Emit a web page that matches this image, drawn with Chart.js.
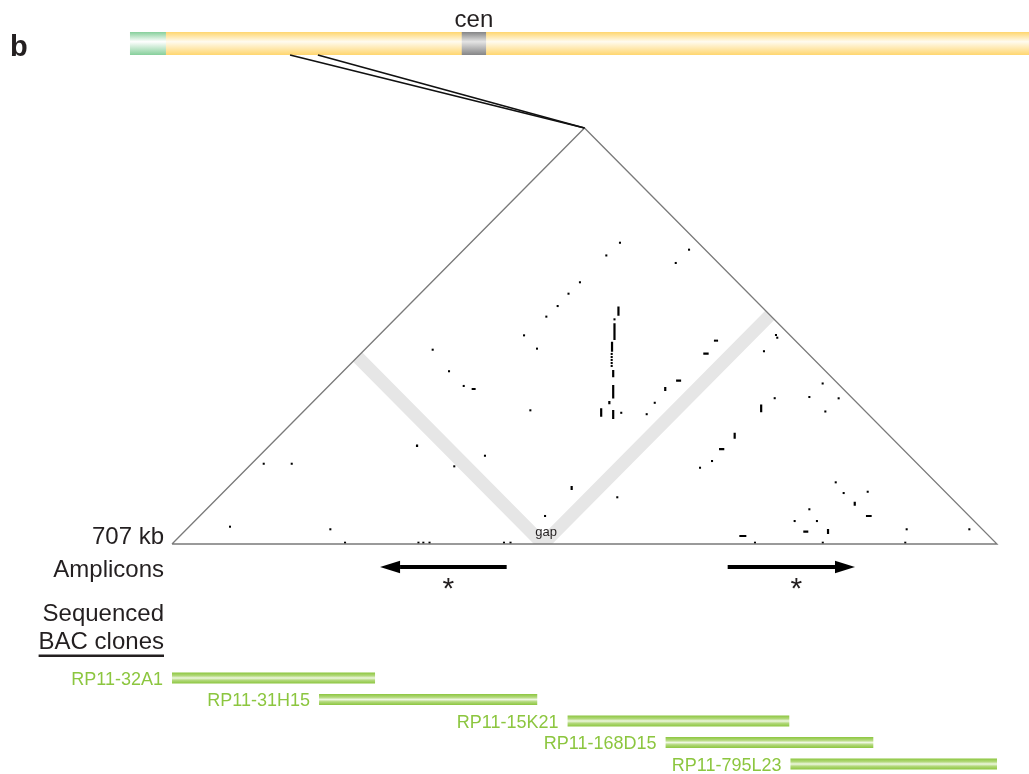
<!DOCTYPE html>
<html>
<head>
<meta charset="utf-8">
<title>707 kb self dot plot</title>
<script src="https://cdn.jsdelivr.net/npm/chart.js@4/dist/chart.umd.min.js"></script>
<style>
  html, body { margin: 0; padding: 0; background: #fff; }
  #wrap { width: 1029px; height: 774px; position: relative; }
</style>
</head>
<body>
<div id="wrap"><canvas id="dotPlot"></canvas></div>
<script>
// region shown in the triangle (kb) and the sequence gap
const regionKb = 707;
const gapKb = 318;

// self-alignment hits, as [midpoint kb, half offset kb]
const matchDots = [
  [78.6, 68.2], [102.6, 68.2], [49.7, 14.7], [135.7, 12.5], [223.4, 165.1],
  [237.4, 146.8], [250.0, 134.3], [241.9, 66.0], [268.2, 75.0], [301.7, 177.3],
  [312.8, 166.0], [307.1, 113.6], [320.8, 193.2], [330.5, 202.2], [339.8, 212.7],
  [349.6, 222.4], [372.2, 245.2], [383.9, 256.0], [431.7, 238.8], [443.1, 250.1],
  [379.2, 190.9], [385.0, 111.5], [406.8, 110.3], [413.7, 120.0], [381.6, 39.7],
  [319.7, 23.8], [465.3, 172.8], [467.1, 172.8], [517.6, 177.6], [518.7, 175.3],
  [507.3, 163.8], [557.6, 136.4], [516.5, 123.9], [546.2, 124.9], [571.3, 123.8],
  [559.9, 112.6], [462.8, 70.5], [452.5, 64.8], [568.8, 52.4], [575.6, 43.3],
  [596.2, 44.4], [546.2, 29.5], [533.6, 19.5], [552.7, 19.5], [629.6, 12.5],
  [683.3, 12.5],
  [376.8, 161.5], [376.8, 158.9], [376.8, 156.4], [376.8, 153.8], [376.8, 151.3],
  [148.3, 1.1], [211.2, 1.1], [215.4, 1.1], [220.7, 1.1], [284.5, 1.1],
  [290.1, 1.1], [499.6, 1.1], [557.7, 1.1], [628.4, 1.1],
];

// runs along the vertical: [midpoint kb, half offset from, half offset to]
const matchRunsV = [
  [382.6, 193.9, 201.8], [379.2, 173.4, 187.5], [377.1, 163.4, 171.9],
  [378.1, 141.7, 147.9], [378.1, 123.6, 135.1], [367.8, 108.2, 115.3],
  [378.1, 106.2, 113.9], [504.9, 111.9, 118.5], [482.2, 89.5, 94.6],
  [585.1, 32.5, 35.9], [562.2, 8.5, 12.7], [422.7, 130.0, 133.4],
  [374.8, 118.7, 121.5], [342.5, 45.9, 49.3], [210.0, 82.4, 84.6],
];

// runs along the horizontal: [midpoint from, midpoint to, half offset]
const matchRunsH = [
  [455.3, 459.9, 161.7], [468.8, 473.3, 80.7], [594.7, 599.6, 23.8],
  [486.2, 492.2, 6.8], [432.0, 436.3, 138.8], [541.0, 545.3, 10.5],
  [256.8, 260.2, 131.7],
];

// amplicon arms: [tail kb, head kb]
const amplicons = [[286.8, 178.3], [476.2, 585.3]];
const ampliconMarks = ["*", "*"];

// sequenced BAC clones
const bacNames = ["RP11-32A1", "RP11-31H15", "RP11-15K21", "RP11-168D15", "RP11-795L23"];
const bacStart = [0, 126, 339, 423, 530];
const bacEnd = [174, 313, 529, 601, 707];

// chromosome ideogram (Mb)
const chromLength = 155;
const bandFrom = [0, 6.2, 57.2, 61.4];
const bandTo = [6.2, 57.2, 61.4, 155];
const bandKind = ["par", "arm", "cen", "arm"];
const zoomFromMb = [27.6, 32.4];

const FONT = "Arial, 'Liberation Sans', Helvetica, sans-serif";
const INK = "#231f20";
const BAC_GREEN = "#8cc63f";

// page layout in pixels (not data)
const LAYOUT = { ideoTop: 32, ideoH: 23, ampY: 567, starDy: 16.5, labelGap: 9, bacH: 11 };

const bandColors = {
  par: ["#86cf9b", "#ffffff"],
  arm: ["#ffd66f", "#fffbef"],
  cen: ["#858586", "#e4e4e4"],
};

function vGradient(ctx, top, h, edge, mid) {
  const g = ctx.createLinearGradient(0, top, 0, top + h);
  g.addColorStop(0, edge);
  g.addColorStop(0.42, mid);
  g.addColorStop(1, edge);
  return g;
}

function bacGradient(ctx, cy, h) {
  const g = ctx.createLinearGradient(0, cy - h / 2, 0, cy + h / 2);
  g.addColorStop(0, "#8cc63f");
  g.addColorStop(0.3, "#b3d97c");
  g.addColorStop(0.5, "#eef7e0");
  g.addColorStop(0.7, "#b3d97c");
  g.addColorStop(1, "#8cc63f");
  return g;
}

// draw text so that its ink is vertically centred on y
function inkText(ctx, text, x, y) {
  const m = ctx.measureText(text);
  const asc = m.actualBoundingBoxAscent, desc = m.actualBoundingBoxDescent;
  ctx.textBaseline = "alphabetic";
  ctx.fillText(text, x, y + (asc - desc) / 2);
}

const half = regionKb / 2;
const trianglePts = [
  { x: 0, y: 0 }, { x: half, y: half }, { x: regionKb, y: 0 }, { x: 0, y: 0 },
];
const vPts = matchRunsV.flatMap(([m, a, b]) => [{ x: m, y: a }, { x: m, y: b }, { x: m, y: null }]);
const hPts = matchRunsH.flatMap(([a, b, h]) => [{ x: a, y: h }, { x: b, y: h }, { x: b, y: null }]);

const bacDatasets = bacNames.map((name, i) => ({
  type: "line",
  label: name,
  xAxisID: "x",
  yAxisID: "yb",
  data: [{ x: bacStart[i], y: i }, { x: bacEnd[i], y: i }],
  borderWidth: LAYOUT.bacH,
  borderCapStyle: "butt",
  pointRadius: 0,
  borderColor: (c) => {
    const yb = c.chart.scales.yb;
    const cy = yb ? yb.getPixelForValue(i) : NaN;
    if (!Number.isFinite(cy)) return BAC_GREEN;
    return bacGradient(c.chart.ctx, cy, LAYOUT.bacH);
  },
}));

// grey band marking the sequence gap, clipped to the triangle
const gapBands = {
  id: "gapBands",
  beforeDatasetsDraw(chart) {
    const { ctx, scales: { x, y } } = chart;
    ctx.save();
    ctx.beginPath();
    trianglePts.forEach((p, i) => {
      const px = x.getPixelForValue(p.x), py = y.getPixelForValue(p.y);
      i ? ctx.lineTo(px, py) : ctx.moveTo(px, py);
    });
    ctx.closePath();
    ctx.clip();
    const over = 15;
    const pts = [
      [(gapKb - over) / 2, (gapKb + over) / 2],
      [gapKb, 0],
      [(gapKb + regionKb + over) / 2, (regionKb - gapKb + over) / 2],
    ];
    ctx.beginPath();
    pts.forEach(([m, h], i) => {
      const px = x.getPixelForValue(m), py = y.getPixelForValue(h);
      i ? ctx.lineTo(px, py) : ctx.moveTo(px, py);
    });
    ctx.strokeStyle = "#e6e6e6";
    ctx.lineWidth = 13;
    ctx.lineJoin = "miter";
    ctx.stroke();
    ctx.restore();
  },
};

// ideogram, labels, amplicon arrows
const decorations = {
  id: "decorations",
  afterDatasetsDraw(chart) {
    const { ctx, scales: { x, y, xc, yb } } = chart;
    ctx.save();

    // ideogram
    const top = LAYOUT.ideoTop, h = LAYOUT.ideoH;
    bandFrom.forEach((f, i) => {
      const x0 = xc.getPixelForValue(f), x1 = xc.getPixelForValue(bandTo[i]);
      const [edge, mid] = bandColors[bandKind[i]];
      ctx.fillStyle = vGradient(ctx, top, h, edge, mid);
      ctx.fillRect(x0, top, x1 - x0 + 0.5, h);
    });
    const ci = bandKind.indexOf("cen");
    ctx.fillStyle = INK;
    ctx.font = `24px ${FONT}`;
    ctx.textAlign = "center";
    inkText(ctx, "cen", (xc.getPixelForValue(bandFrom[ci]) + xc.getPixelForValue(bandTo[ci])) / 2, 20);
    ctx.font = `bold 29px ${FONT}`;
    ctx.textAlign = "left";
    ctx.fillText("b", 10, 56);

    // zoom lines to the triangle apex
    const ax = x.getPixelForValue(half), ay = y.getPixelForValue(half);
    ctx.strokeStyle = "#111";
    ctx.lineWidth = 1.8;
    zoomFromMb.forEach((mb) => {
      ctx.beginPath();
      ctx.moveTo(xc.getPixelForValue(mb), top + h);
      ctx.lineTo(ax, ay);
      ctx.stroke();
    });

    // gap label
    ctx.fillStyle = INK;
    ctx.font = `13px ${FONT}`;
    ctx.textAlign = "center";
    inkText(ctx, "gap", x.getPixelForValue(gapKb) + 3, y.getPixelForValue(0) - 10);

    // left labels
    const right = x.getPixelForValue(0) - 8;
    const row0 = yb.getPixelForValue(0);
    ctx.font = `24px ${FONT}`;
    ctx.textAlign = "right";
    ctx.textBaseline = "alphabetic";
    ctx.fillText("707 kb", right, y.getPixelForValue(0));
    ctx.fillText("Amplicons", right, LAYOUT.ampY + 9.5);
    ctx.fillText("Sequenced", right, row0 - 57.3);
    ctx.fillText("BAC clones", right, row0 - 29);
    const w = ctx.measureText("BAC clones").width;
    ctx.fillRect(right - w, row0 - 23.5, w, 2.5);

    // amplicon arrows
    const headL = 20, headH = 6.2, shaft = 4;
    amplicons.forEach(([from, to], i) => {
      const x0 = x.getPixelForValue(from), x1 = x.getPixelForValue(to);
      const dir = Math.sign(x1 - x0);
      const yA = LAYOUT.ampY;
      ctx.fillStyle = "#000";
      ctx.fillRect(Math.min(x0, x1 - dir * headL), yA - shaft / 2, Math.abs(x1 - dir * headL - x0), shaft);
      ctx.beginPath();
      ctx.moveTo(x1, yA);
      ctx.lineTo(x1 - dir * headL, yA - headH);
      ctx.lineTo(x1 - dir * headL, yA + headH);
      ctx.closePath();
      ctx.fill();
      ctx.fillStyle = INK;
      ctx.font = `30px ${FONT}`;
      ctx.textAlign = "center";
      inkText(ctx, ampliconMarks[i], (x0 + x1) / 2 + 5, yA + LAYOUT.starDy);
    });

    // BAC clone names
    ctx.fillStyle = BAC_GREEN;
    ctx.font = `18px ${FONT}`;
    ctx.textAlign = "right";
    bacNames.forEach((name, i) => {
      inkText(ctx, name, x.getPixelForValue(bacStart[i]) - LAYOUT.labelGap, yb.getPixelForValue(i));
    });
    ctx.restore();
  },
};

new Chart(document.getElementById("dotPlot"), {
  type: "scatter",
  data: {
    datasets: [
      {
        type: "line",
        label: "triangle",
        data: trianglePts,
        borderColor: "#7a7a7a",
        borderWidth: 1.3,
        pointRadius: 0,
        tension: 0,
        fill: false,
      },
      {
        label: "hits",
        data: matchDots.map(([m, h]) => ({ x: m, y: h })),
        pointStyle: "rect",
        pointRadius: 1.45,
        borderWidth: 0,
        backgroundColor: "#000",
      },
      {
        type: "line",
        label: "vertical runs",
        data: vPts,
        borderColor: "#000",
        borderWidth: 2.2,
        borderCapStyle: "butt",
        pointRadius: 0,
        spanGaps: false,
      },
      {
        type: "line",
        label: "horizontal runs",
        data: hPts,
        borderColor: "#000",
        borderWidth: 2.2,
        borderCapStyle: "butt",
        pointRadius: 0,
        spanGaps: false,
      },
      ...bacDatasets,
    ],
  },
  options: {
    responsive: true,
    maintainAspectRatio: false,
    animation: false,
    layout: { padding: 0, autoPadding: false },
    plugins: {
      legend: { display: false },
      tooltip: { enabled: false },
    },
    scales: {
      x: { type: "linear", min: -147.4, max: 734.43, display: false },
      y: { type: "linear", min: -195.45, max: 462.27, display: false },
      yb: { type: "linear", min: -31.535, max: 4.465, reverse: true, display: false },
      xc: { type: "linear", min: -22.41, max: chromLength, display: false },
    },
  },
  plugins: [gapBands, decorations],
});
</script>
</body>
</html>
